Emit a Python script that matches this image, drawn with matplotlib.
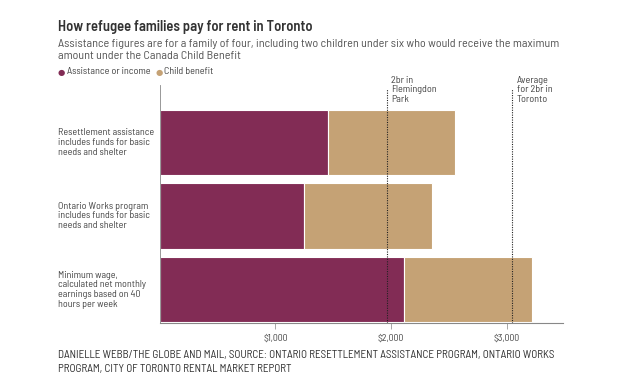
import matplotlib
matplotlib.use("Agg")
from matplotlib import pyplot as plt
from matplotlib import transforms
from matplotlib.ticker import FuncFormatter

plt.rcParams['font.family'] = ['Barlow Semi Condensed', 'Liberation Sans', 'DejaVu Sans']

# data (monthly dollars)
categories = [
    "Resettlement assistance\nincludes funds for basic\nneeds and shelter",
    "Ontario Works program\nincludes funds for basic\nneeds and shelter",
    "Minimum wage,\ncalculated net monthly\nearnings based on 40\nhours per week",
]
assistance = [1455, 1250, 2112]
child_benefit = [1095, 1105, 1105]
rent_labels = ["2br in\nFlemingdon\nPark", "Average\nfor 2br in\nToronto"]
rent_values = [1965, 3049]
ticks = [1000, 2000, 3000]

purple = "#822c55"
tan = "#c5a275"
grey_text = "#444444"

fig = plt.figure(figsize=(6.4, 3.91), dpi=100)
ax = fig.add_axes([0.2494, 0.1747, 0.8797 - 0.2494, 0.7826 - 0.1747])

y = list(range(len(categories)))
ax.barh(y, assistance, height=0.89, color=purple, edgecolor="white", linewidth=0.8)
ax.barh(y, child_benefit, left=assistance, height=0.89, color=tan, edgecolor="white", linewidth=0.8)

ax.set_xlim(0, 3487)
ax.set_ylim(2.45, -0.78)

for v, lab in zip(rent_values, rent_labels):
    ax.plot([v, v], [2.45, -0.73], color="#222222", linestyle=(0, (1, 1.2)),
            linewidth=0.8, zorder=3)
    ax.annotate(lab, xy=(v, 1), xycoords=("data", "axes fraction"),
                xytext=(3, 6.5), textcoords="offset points",
                ha="left", va="top", fontsize=7.3, color=grey_text, linespacing=1.05)

# category labels at the left
trans = transforms.blended_transform_factory(fig.transFigure, ax.transData)
for yi, lab in zip(y, categories):
    ax.text(0.0906, yi, lab, transform=trans, ha="left", va="center",
            fontsize=7.2, color=grey_text, linespacing=1.1)

ax.set_yticks([])
ax.set_xticks(ticks)
ax.xaxis.set_major_formatter(FuncFormatter(lambda v, p: "${:,.0f}".format(v)))
ax.tick_params(axis="x", length=4, width=0.6, color="#999999", labelsize=7,
               labelcolor=grey_text, pad=4)
for s in ["top", "right"]:
    ax.spines[s].set_visible(False)
ax.spines["bottom"].set_color("#888888")
ax.spines["bottom"].set_linewidth(0.8)
ax.spines["left"].set_color("#888888")
ax.spines["left"].set_linewidth(0.6)

# titles
fig.text(0.0906, 1 - 31 / 391, "How refugee families pay for rent in Toronto",
         fontsize=10.5, fontweight="semibold", color="#333333", va="baseline")
fig.text(0.0906, 1 - 47 / 391,
         "Assistance figures are for a family of four, including two children under six who would receive the maximum",
         fontsize=8.7, color="#555555", va="baseline")
fig.text(0.0906, 1 - 59 / 391, "amount under the Canada Child Benefit",
         fontsize=8.7, color="#555555", va="baseline")

# legend
fig.text(0.0906, 1 - 72 / 391, "\u25cf", fontsize=6, color=purple, va="center",
         family="DejaVu Sans")
fig.text(67 / 640, 1 - 72 / 391, "Assistance or income", fontsize=7.3, color=grey_text, va="center")
fig.text(156 / 640, 1 - 72 / 391, "\u25cf", fontsize=6, color=tan, va="center",
         family="DejaVu Sans")
fig.text(164 / 640, 1 - 72 / 391, "Child benefit", fontsize=7.3, color=grey_text, va="center")

# footer
fig.text(0.0906, 1 - 358 / 391,
         "DANIELLE WEBB/THE GLOBE AND MAIL, SOURCE: ONTARIO RESETTLEMENT ASSISTANCE PROGRAM, ONTARIO WORKS",
         fontsize=8, color="#333333", va="baseline")
fig.text(0.0906, 1 - 372 / 391, "PROGRAM, CITY OF TORONTO RENTAL MARKET REPORT",
         fontsize=8, color="#333333", va="baseline")

fig.savefig("out.png", dpi=100)
